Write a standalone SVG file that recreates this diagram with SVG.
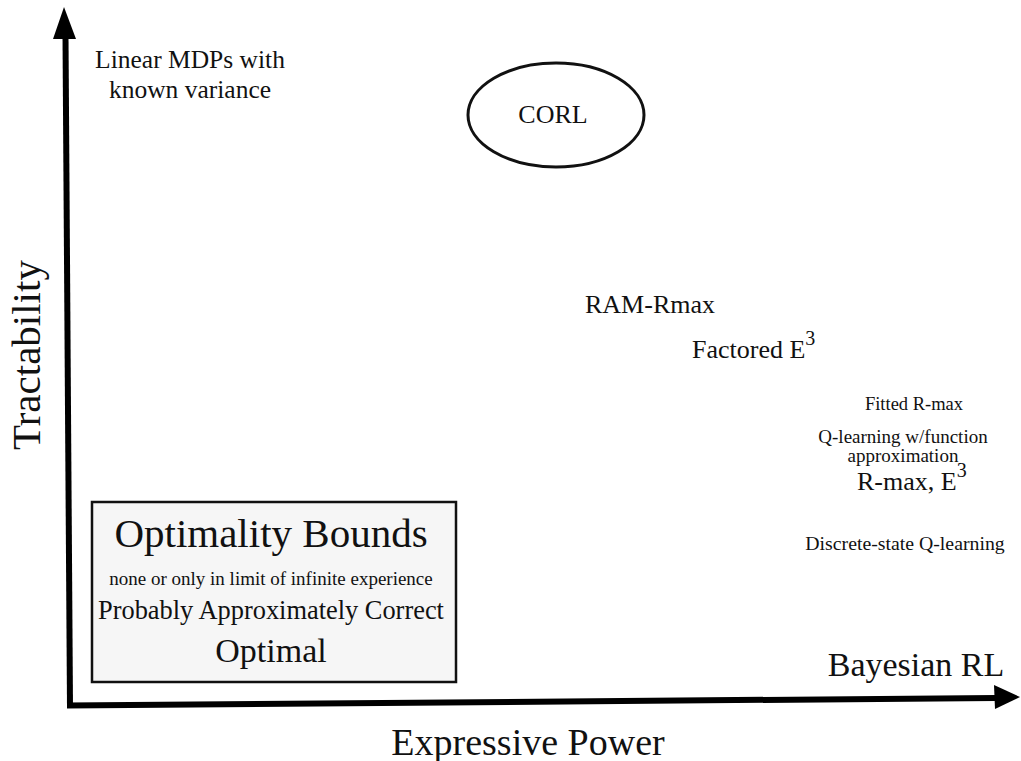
<svg xmlns="http://www.w3.org/2000/svg" width="1021" height="761" viewBox="0 0 1021 761">
  <style>
    text { font-family: "Liberation Serif", "Times New Roman", serif; fill: #111; }
    .axis { stroke: #000; stroke-width: 6; fill: none; }
    .head { fill: #000; }
    .mid { text-anchor: middle; }
  </style>
  <rect width="1021" height="761" fill="#fff"/>

  <!-- axes -->
  <g id="connectors">
    <path class="axis" d="M70,707 L65.5,36"/>
    <polygon class="head" points="64,7 53,39 76,39"/>
    <path class="axis" d="M67,705.5 L996,698"/>
    <polygon class="head" points="1020,697 994,685 995,709"/>
  </g>

  <!-- axis titles -->
  <g id="y-label">
    <text transform="translate(40,355) rotate(-90)" class="mid" font-size="41">Tractability</text>
  </g>
  <g id="x-label">
    <text x="528" y="755" class="mid" font-size="38">Expressive Power</text>
  </g>

  <g id="linear-mdps">
    <text x="190" y="68" class="mid" font-size="25.5">Linear MDPs with</text>
    <text x="190" y="98" class="mid" font-size="25.5">known variance</text>
  </g>

  <g id="corl">
    <ellipse cx="556" cy="115" rx="88" ry="52" fill="none" stroke="#111" stroke-width="3"/>
    <text x="553" y="123" class="mid" font-size="26">CORL</text>
  </g>

  <g id="ram-rmax">
    <text x="585" y="313" font-size="26">RAM-Rmax</text>
  </g>

  <g id="factored-e3">
    <text x="692" y="358" font-size="26">Factored E<tspan font-size="20" dy="-13">3</tspan></text>
  </g>

  <g id="fitted-rmax">
    <text x="914" y="410" class="mid" font-size="18.5">Fitted R-max</text>
  </g>

  <g id="q-learning-fa">
    <text x="903" y="443" class="mid" font-size="19">Q-learning w/function</text>
    <text x="903" y="462" class="mid" font-size="19">approximation</text>
  </g>

  <g id="rmax-e3">
    <text x="857" y="490" font-size="26">R-max, E<tspan font-size="20" dy="-13">3</tspan></text>
  </g>

  <g id="discrete-q">
    <text x="905" y="550" class="mid" font-size="19.8">Discrete-state Q-learning</text>
  </g>

  <g id="bayesian-rl">
    <text x="916" y="676" class="mid" font-size="34">Bayesian RL</text>
  </g>

  <g id="optimality-bounds">
    <rect x="92" y="502" width="364" height="180" fill="#f6f6f6" stroke="#111" stroke-width="2.5"/>
    <text x="271" y="547" class="mid" font-size="41">Optimality Bounds</text>
    <text x="271" y="585" class="mid" font-size="19">none or only in limit of infinite experience</text>
    <text x="271" y="619" class="mid" font-size="26.4">Probably Approximately Correct</text>
    <text x="271" y="662" class="mid" font-size="34">Optimal</text>
  </g>
</svg>
